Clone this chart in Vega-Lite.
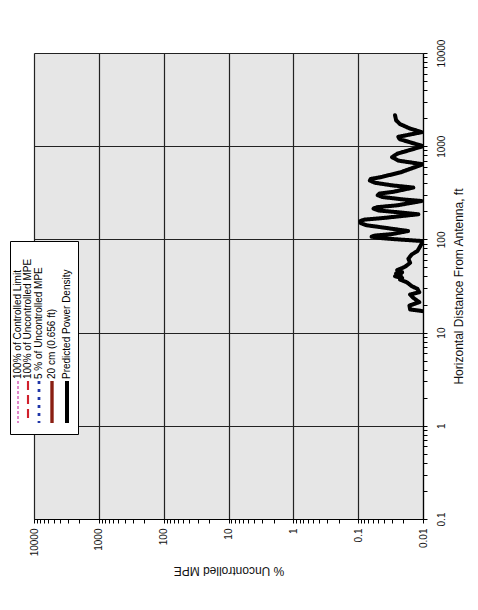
{
  "$schema": "https://vega.github.io/schema/vega-lite/v6.json",
  "width": 389,
  "height": 466,
  "autosize": {"type": "none"},
  "padding": {"left": 34, "top": 53, "right": 55, "bottom": 91},
  "background": "white",
  "config": {
    "view": {"fill": "#e6e6e6", "stroke": null},
    "font": "Liberation Sans",
    "legend": {
      "title": null,
      "orient": "none",
      "legendX": -24,
      "legendY": 188,
      "direction": "horizontal",
      "columns": 5,
      "columnPadding": 0,
      "gridAlign": "none",
      "fillColor": "#ffffff",
      "strokeColor": "#000000",
      "padding": 3,
      "symbolType": "M0,-21L0,21",
      "symbolSize": 4,
      "labelFontSize": 10,
      "labelColor": "#000000",
      "labelAlign": "left",
      "labelBaseline": "middle",
      "labelOffset": 0,
      "labelLimit": 0
    }
  },
  "data": {
    "values": [
      {"series": "Predicted Power Density", "distance": 17, "mpe": 0.0101},
      {"series": "Predicted Power Density", "distance": 17.7, "mpe": 0.0158},
      {"series": "Predicted Power Density", "distance": 19.5, "mpe": 0.0162},
      {"series": "Predicted Power Density", "distance": 21.2, "mpe": 0.0114},
      {"series": "Predicted Power Density", "distance": 23.6, "mpe": 0.0141},
      {"series": "Predicted Power Density", "distance": 25.6, "mpe": 0.0158},
      {"series": "Predicted Power Density", "distance": 27.1, "mpe": 0.0114},
      {"series": "Predicted Power Density", "distance": 29.5, "mpe": 0.0122},
      {"series": "Predicted Power Density", "distance": 31.5, "mpe": 0.0149},
      {"series": "Predicted Power Density", "distance": 34.7, "mpe": 0.0178},
      {"series": "Predicted Power Density", "distance": 37.1, "mpe": 0.0226},
      {"series": "Predicted Power Density", "distance": 38.5, "mpe": 0.021},
      {"series": "Predicted Power Density", "distance": 40.3, "mpe": 0.027},
      {"series": "Predicted Power Density", "distance": 41.5, "mpe": 0.022},
      {"series": "Predicted Power Density", "distance": 43.1, "mpe": 0.026},
      {"series": "Predicted Power Density", "distance": 44.5, "mpe": 0.021},
      {"series": "Predicted Power Density", "distance": 46.8, "mpe": 0.025},
      {"series": "Predicted Power Density", "distance": 50.9, "mpe": 0.0189},
      {"series": "Predicted Power Density", "distance": 56.1, "mpe": 0.0158},
      {"series": "Predicted Power Density", "distance": 62, "mpe": 0.0168},
      {"series": "Predicted Power Density", "distance": 69, "mpe": 0.0149},
      {"series": "Predicted Power Density", "distance": 74.9, "mpe": 0.0122},
      {"series": "Predicted Power Density", "distance": 84.7, "mpe": 0.011},
      {"series": "Predicted Power Density", "distance": 95.9, "mpe": 0.01},
      {"series": "Predicted Power Density", "distance": 101, "mpe": 0.03},
      {"series": "Predicted Power Density", "distance": 104, "mpe": 0.05},
      {"series": "Predicted Power Density", "distance": 107, "mpe": 0.062},
      {"series": "Predicted Power Density", "distance": 110, "mpe": 0.055},
      {"series": "Predicted Power Density", "distance": 114, "mpe": 0.03},
      {"series": "Predicted Power Density", "distance": 123, "mpe": 0.017},
      {"series": "Predicted Power Density", "distance": 132, "mpe": 0.035},
      {"series": "Predicted Power Density", "distance": 142, "mpe": 0.075},
      {"series": "Predicted Power Density", "distance": 150, "mpe": 0.092},
      {"series": "Predicted Power Density", "distance": 157, "mpe": 0.093},
      {"series": "Predicted Power Density", "distance": 163, "mpe": 0.08},
      {"series": "Predicted Power Density", "distance": 170, "mpe": 0.04},
      {"series": "Predicted Power Density", "distance": 186, "mpe": 0.0118},
      {"series": "Predicted Power Density", "distance": 196, "mpe": 0.025},
      {"series": "Predicted Power Density", "distance": 204, "mpe": 0.048},
      {"series": "Predicted Power Density", "distance": 214, "mpe": 0.058},
      {"series": "Predicted Power Density", "distance": 222, "mpe": 0.05},
      {"series": "Predicted Power Density", "distance": 232, "mpe": 0.025},
      {"series": "Predicted Power Density", "distance": 258, "mpe": 0.0105},
      {"series": "Predicted Power Density", "distance": 270, "mpe": 0.022},
      {"series": "Predicted Power Density", "distance": 285, "mpe": 0.042},
      {"series": "Predicted Power Density", "distance": 298, "mpe": 0.05},
      {"series": "Predicted Power Density", "distance": 310, "mpe": 0.047},
      {"series": "Predicted Power Density", "distance": 325, "mpe": 0.028},
      {"series": "Predicted Power Density", "distance": 360, "mpe": 0.0141},
      {"series": "Predicted Power Density", "distance": 380, "mpe": 0.03},
      {"series": "Predicted Power Density", "distance": 405, "mpe": 0.055},
      {"series": "Predicted Power Density", "distance": 428, "mpe": 0.066},
      {"series": "Predicted Power Density", "distance": 445, "mpe": 0.064},
      {"series": "Predicted Power Density", "distance": 465, "mpe": 0.045},
      {"series": "Predicted Power Density", "distance": 525, "mpe": 0.022},
      {"series": "Predicted Power Density", "distance": 640, "mpe": 0.01},
      {"series": "Predicted Power Density", "distance": 700, "mpe": 0.024},
      {"series": "Predicted Power Density", "distance": 762, "mpe": 0.03},
      {"series": "Predicted Power Density", "distance": 830, "mpe": 0.025},
      {"series": "Predicted Power Density", "distance": 1000, "mpe": 0.01},
      {"series": "Predicted Power Density", "distance": 1190, "mpe": 0.023},
      {"series": "Predicted Power Density", "distance": 1260, "mpe": 0.024},
      {"series": "Predicted Power Density", "distance": 1413, "mpe": 0.0105},
      {"series": "Predicted Power Density", "distance": 1550, "mpe": 0.016},
      {"series": "Predicted Power Density", "distance": 1726, "mpe": 0.0226},
      {"series": "Predicted Power Density", "distance": 1900, "mpe": 0.026},
      {"series": "Predicted Power Density", "distance": 2150, "mpe": 0.027}
    ]
  },
  "mark": {"type": "line", "clip": true, "strokeJoin": "round", "strokeCap": "round"},
  "encoding": {
    "x": {
      "field": "mpe",
      "type": "quantitative",
      "scale": {"type": "log", "domain": [0.01, 10000], "reverse": true, "nice": false},
      "axis": {
        "orient": "bottom",
        "values": [0.01,0.02,0.03,0.04,0.05,0.06,0.07,0.08,0.09,0.1,0.2,0.3,0.4,0.5,0.6,0.7,0.8,0.9,1,2,3,4,5,6,7,8,9,10,20,30,40,50,60,70,80,90,100,200,300,400,500,600,700,800,900,1000,2000,3000,4000,5000,6000,7000,8000,9000,10000],
        "grid": true,
        "gridColor": "#222222",
        "gridWidth": 1.2,
        "gridOpacity": {"condition": {"test": "abs(log(datum.value)/LN10 - round(log(datum.value)/LN10)) < 0.001", "value": 1}, "value": 0},
        "domainColor": "#000000",
        "domainWidth": 1.2,
        "tickColor": "#000000",
        "tickSize": 4,
        "labelExpr": "abs(log(datum.value)/LN10 - round(log(datum.value)/LN10)) < 0.001 ? format(datum.value, '~g') : ''",
        "labelAngle": 270,
        "labelAlign": "right",
        "labelBaseline": "middle",
        "labelPadding": 5,
        "labelFontSize": 10,
        "labelColor": "#111111",
        "labelOverlap": false,
        "labelFlush": false,
        "title": "% Uncontrolled MPE",
        "titleAngle": 180,
        "titleBaseline": "bottom",
        "titleFontSize": 12,
        "titleFontWeight": "normal",
        "titleColor": "#111111",
        "titlePadding": 8
      }
    },
    "y": {
      "field": "distance",
      "type": "quantitative",
      "scale": {"type": "log", "domain": [0.1, 10000], "nice": false},
      "axis": {
        "orient": "right",
        "values": [0.1,0.2,0.3,0.4,0.5,0.6,0.7,0.8,0.9,1,2,3,4,5,6,7,8,9,10,20,30,40,50,60,70,80,90,100,200,300,400,500,600,700,800,900,1000,2000,3000,4000,5000,6000,7000,8000,9000,10000],
        "grid": true,
        "gridColor": "#222222",
        "gridWidth": 1.2,
        "gridOpacity": {"condition": {"test": "abs(log(datum.value)/LN10 - round(log(datum.value)/LN10)) < 0.001", "value": 1}, "value": 0},
        "domainColor": "#000000",
        "domainWidth": 1.2,
        "tickColor": "#000000",
        "tickSize": 4,
        "labelExpr": "abs(log(datum.value)/LN10 - round(log(datum.value)/LN10)) < 0.001 ? format(datum.value, '~g') : ''",
        "labelAngle": 270,
        "labelAlign": "center",
        "labelBaseline": "top",
        "labelPadding": 9,
        "labelFontSize": 10,
        "labelColor": "#111111",
        "labelOverlap": false,
        "labelFlush": false,
        "title": "Horizontal Distance From Antenna, ft",
        "titleAngle": 270,
        "titleBaseline": "top",
        "titleFontSize": 12,
        "titleFontWeight": "normal",
        "titleColor": "#111111",
        "titlePadding": 7
      }
    },
    "order": {"field": "distance", "type": "quantitative"},
    "color": {
      "field": "series",
      "type": "nominal",
      "scale": {
        "domain": ["100% of Controlled Limit", "100% of Uncontrolled MPE", "5 % of Uncontrolled MPE", "20 cm (0.656 ft)", "Predicted Power Density"],
        "range": ["#d860b8", "#d0202c", "#2036a8", "#8a1f12", "#000000"]
      },
      "legend": {
        "encode": {
          "symbols": {"update": {"x": {"value": 5}, "y": {"value": 158}}},
          "labels": {"update": {"angle": {"value": -90}, "x": {"value": 5}, "y": {"value": 135}}}
        }
      }
    },
    "strokeDash": {
      "field": "series",
      "type": "nominal",
      "scale": {
        "domain": ["100% of Controlled Limit", "100% of Uncontrolled MPE", "5 % of Uncontrolled MPE", "20 cm (0.656 ft)", "Predicted Power Density"],
        "range": [[3, 2], [9, 5], [3, 5], [1, 0], [1, 0]]
      },
      "legend": {
        "encode": {
          "symbols": {"update": {"x": {"value": 5}, "y": {"value": 158}}},
          "labels": {"update": {"angle": {"value": -90}, "x": {"value": 5}, "y": {"value": 135}}}
        }
      }
    },
    "strokeWidth": {
      "field": "series",
      "type": "nominal",
      "scale": {
        "domain": ["100% of Controlled Limit", "100% of Uncontrolled MPE", "5 % of Uncontrolled MPE", "20 cm (0.656 ft)", "Predicted Power Density"],
        "range": [1.5, 4, 4, 1.5, 3.5]
      },
      "legend": {
        "encode": {
          "symbols": {"update": {"x": {"value": 5}, "y": {"value": 158}}},
          "labels": {"update": {"angle": {"value": -90}, "x": {"value": 5}, "y": {"value": 135}}}
        }
      }
    }
  }
}
